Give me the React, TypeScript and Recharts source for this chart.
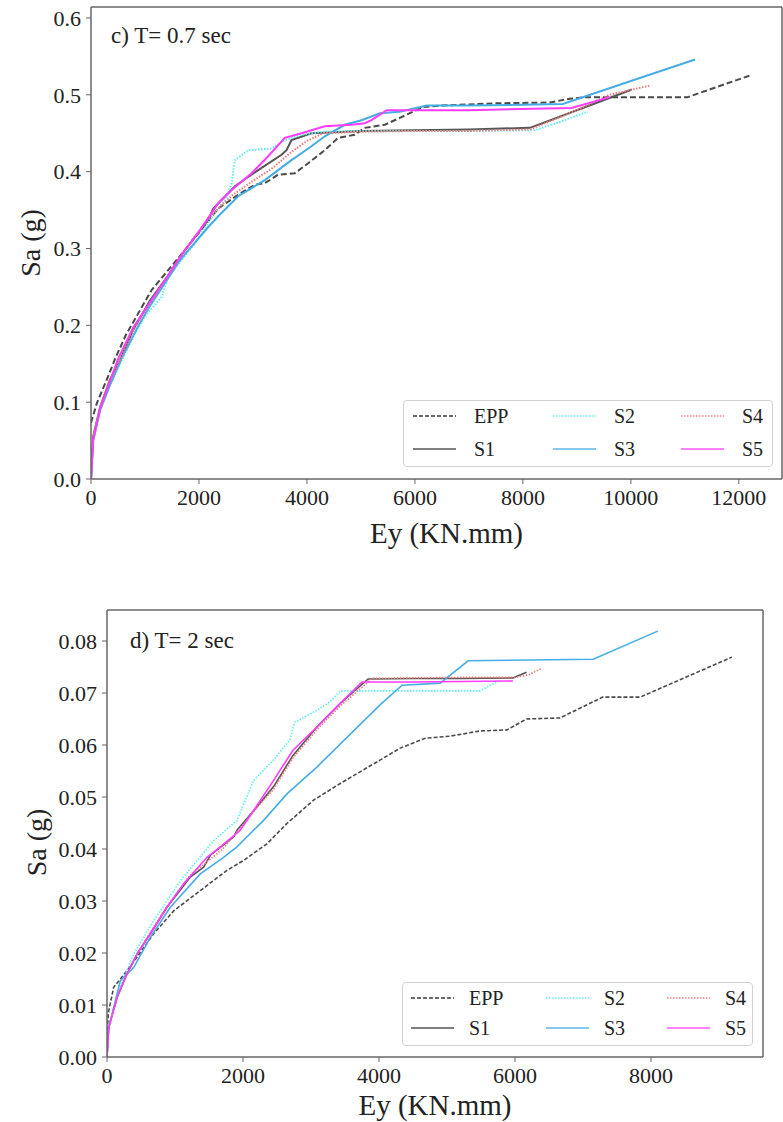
import { LineChart, Line, XAxis, YAxis, Legend, ReferenceLine, Label } from 'recharts'

const font = '"Liberation Serif", "Times New Roman", serif'

// c) T = 0.7 sec
const eppEy07 = [0, 110, 290, 450, 650, 1123, 1740, 2357, 2727, 3036, 3220, 3467, 3776, 4023, 4331, 4578, 4886, 5070, 5440, 5720, 6150, 6500, 7500, 8500, 8870, 9200, 11050, 12200]
const eppSa07 = [0.073, 0.099, 0.129, 0.157, 0.188, 0.246, 0.298, 0.352, 0.37, 0.383, 0.385, 0.396, 0.398, 0.411, 0.428, 0.444, 0.448, 0.457, 0.461, 0.47, 0.484, 0.486, 0.489, 0.49, 0.495, 0.497, 0.497, 0.525]
const s1Ey07 = [0, 40, 170, 350, 540, 780, 1090, 1400, 1650, 1900, 2172, 2264, 2665, 3097, 3530, 3622, 3714, 4084, 5000, 6000, 7000, 8130, 9000, 10020]
const s1Sa07 = [0, 0.055, 0.094, 0.129, 0.155, 0.194, 0.232, 0.262, 0.289, 0.313, 0.337, 0.352, 0.381, 0.402, 0.422, 0.428, 0.441, 0.45, 0.453, 0.454, 0.455, 0.457, 0.48, 0.507]
const s2Ey07 = [0, 40, 170, 350, 540, 815, 1000, 1200, 1308, 1431, 1925, 2260, 2500, 2604, 2665, 2912, 3344, 3590, 3900, 4300, 5000, 6000, 7000, 8220, 8700, 9200]
const s2Sa07 = [0, 0.05, 0.09, 0.122, 0.15, 0.19, 0.212, 0.228, 0.237, 0.263, 0.307, 0.343, 0.365, 0.385, 0.415, 0.428, 0.43, 0.441, 0.448, 0.452, 0.453, 0.453, 0.453, 0.454, 0.465, 0.478]
const s3Ey07 = [0, 40, 170, 350, 568, 876, 1090, 1400, 1650, 2172, 2357, 2727, 3220, 3714, 4084, 4331, 4701, 5010, 5350, 5720, 6220, 7000, 8000, 8740, 10000, 11190]
const s3Sa07 = [0, 0.05, 0.09, 0.122, 0.157, 0.199, 0.225, 0.258, 0.285, 0.328, 0.342, 0.368, 0.389, 0.415, 0.433, 0.446, 0.461, 0.467, 0.476, 0.478, 0.486, 0.486, 0.487, 0.488, 0.518, 0.546]
const s4Ey07 = [0, 40, 170, 350, 540, 780, 1090, 1400, 1650, 1900, 2150, 2400, 2630, 3000, 3370, 3700, 4000, 4300, 5000, 6000, 7000, 8130, 9000, 9600, 10350]
const s4Sa07 = [0, 0.055, 0.094, 0.129, 0.155, 0.194, 0.229, 0.262, 0.289, 0.313, 0.337, 0.355, 0.37, 0.388, 0.405, 0.425, 0.44, 0.45, 0.452, 0.453, 0.453, 0.455, 0.48, 0.5, 0.512]
const s5Ey07 = [0, 40, 170, 350, 506, 780, 1123, 1400, 1740, 2000, 2357, 2604, 2974, 3282, 3590, 3900, 4331, 4825, 5072, 5195, 5480, 6000, 7000, 8900, 9610]
const s5Sa07 = [0, 0.05, 0.092, 0.127, 0.157, 0.197, 0.233, 0.262, 0.298, 0.322, 0.359, 0.376, 0.398, 0.42, 0.444, 0.45, 0.459, 0.461, 0.463, 0.467, 0.48, 0.48, 0.48, 0.483, 0.497]

// d) T = 2 sec
const eppEy2 = [0, 20, 98, 294, 441, 686, 980, 1372, 1764, 2009, 2352, 2646, 3038, 3430, 4015, 4310, 4680, 5045, 5485, 5880, 6170, 6660, 7290, 7840, 9190]
const eppSa2 = [0.004, 0.0085, 0.0134, 0.0166, 0.0192, 0.0237, 0.0281, 0.032, 0.0359, 0.0378, 0.041, 0.0449, 0.0494, 0.0526, 0.0571, 0.0594, 0.0613, 0.0617, 0.0627, 0.0629, 0.065, 0.0652, 0.0692, 0.0692, 0.0769]
const s1Ey2 = [0, 25, 147, 294, 441, 637, 882, 1225, 1421, 1519, 1862, 1911, 2205, 2450, 2735, 3090, 3430, 3840, 4500, 5200, 5970, 6170]
const s1Sa2 = [0, 0.0057, 0.0114, 0.016, 0.0198, 0.0237, 0.0288, 0.0346, 0.0365, 0.0388, 0.0423, 0.0436, 0.0481, 0.052, 0.058, 0.0635, 0.068, 0.0727, 0.0728, 0.0728, 0.0729, 0.074]
const s2Ey2 = [0, 25, 147, 392, 686, 1078, 1568, 1911, 2156, 2440, 2690, 2760, 3090, 3280, 3430, 4500, 5485, 5780]
const s2Sa2 = [0, 0.006, 0.012, 0.0198, 0.0262, 0.0339, 0.0416, 0.0455, 0.0532, 0.057, 0.061, 0.0644, 0.0667, 0.0683, 0.0704, 0.0704, 0.0704, 0.0725]
const s3Ey2 = [0, 25, 196, 392, 637, 931, 1372, 1715, 1911, 2303, 2646, 3090, 4015, 4340, 4900, 5310, 7150, 8100]
const s3Sa2 = [0, 0.0055, 0.0147, 0.0172, 0.023, 0.0288, 0.0352, 0.0384, 0.0404, 0.0455, 0.0506, 0.0558, 0.0677, 0.0715, 0.0719, 0.0762, 0.0765, 0.0819]
const s4Ey2 = [0, 25, 147, 294, 441, 637, 882, 1225, 1470, 1700, 1960, 2205, 2450, 2735, 3090, 3430, 3900, 4500, 5200, 6000, 6200, 6400]
const s4Sa2 = [0, 0.0057, 0.0114, 0.016, 0.0198, 0.024, 0.029, 0.035, 0.0375, 0.04, 0.044, 0.048, 0.0515, 0.0575, 0.063, 0.0675, 0.0728, 0.0729, 0.073, 0.073, 0.0735, 0.0748]
const s5Ey2 = [0, 25, 147, 294, 441, 637, 882, 1127, 1470, 1666, 1960, 2156, 2450, 2735, 3090, 3430, 3750, 4500, 5200, 5970]
const s5Sa2 = [0, 0.0057, 0.0114, 0.016, 0.0198, 0.0237, 0.0288, 0.0333, 0.0384, 0.0404, 0.0436, 0.0474, 0.0532, 0.059, 0.0635, 0.068, 0.0721, 0.0721, 0.0722, 0.0723]

const eyTicks07 = [0, 2000, 4000, 6000, 8000, 10000, 12000]
const saTicks07 = [0, 0.1, 0.2, 0.3, 0.4, 0.5, 0.6]
const eyTicks2 = [0, 2000, 4000, 6000, 8000]
const saTicks2 = [0, 0.01, 0.02, 0.03, 0.04, 0.05, 0.06, 0.07, 0.08]

const names = ['EPP', 'S1', 'S2', 'S3', 'S4', 'S5']

const lineStyle: Record<string, { color: string; legend: string; dash?: string }> = {
  EPP: { color: '#4a4a4a', legend: '#6a6a6a', dash: 'dashed' },
  S1: { color: '#555555', legend: '#808080' },
  S2: { color: '#5ef0f0', legend: '#8ff6f6', dash: 'dotted' },
  S3: { color: '#45ade6', legend: '#86c8ee' },
  S4: { color: '#f07a7a', legend: '#f4a0a0', dash: 'dotted' },
  S5: { color: '#ff3cff', legend: '#ff80ff' },
}

const zip = (xs: number[], ys: number[]) => xs.map((ey, i) => ({ ey, sa: ys[i] }))

const series07 = [zip(eppEy07, eppSa07), zip(s1Ey07, s1Sa07), zip(s2Ey07, s2Sa07), zip(s3Ey07, s3Sa07), zip(s4Ey07, s4Sa07), zip(s5Ey07, s5Sa07)]
const series2 = [zip(eppEy2, eppSa2), zip(s1Ey2, s1Sa2), zip(s2Ey2, s2Sa2), zip(s3Ey2, s3Sa2), zip(s4Ey2, s4Sa2), zip(s5Ey2, s5Sa2)]

function LegendBox({ w, h, cols, rows, textOff }: { w: number; h: number; cols: number[]; rows: number[]; textOff: number }) {
  const order = [['EPP', 'S1'], ['S2', 'S3'], ['S4', 'S5']]
  return (
    <div style={{ position: 'relative', width: w, height: h, boxSizing: 'border-box', border: '1px solid #d2d2d2', borderRadius: 4, background: '#fff', fontFamily: font, fontSize: 20, color: '#222' }}>
      {order.map((col, ci) =>
        col.map((name, ri) => {
          const st = lineStyle[name]
          const dash = st.dash === 'dashed' ? '4 2' : st.dash === 'dotted' ? '1.5 1.5' : undefined
          return (
            <div key={name} style={{ position: 'absolute', left: cols[ci], top: rows[ri] - 12, height: 24, display: 'flex', alignItems: 'center' }}>
              <svg width={43} height={4} style={{ display: 'block' }}>
                <line x1={0} y1={2} x2={43} y2={2} stroke={st.legend} strokeWidth={2} strokeDasharray={dash} />
              </svg>
              <span style={{ marginLeft: textOff - 43, lineHeight: '24px' }}>{name}</span>
            </div>
          )
        })
      )}
    </div>
  )
}

type PanelProps = {
  data: { ey: number; sa: number }[][]
  height: number
  margin: { top: number; right: number; left: number; bottom: number }
  yWidth: number
  xHeight: number
  xMax: number
  yMax: number
  xTicks: number[]
  yTicks: number[]
  digits: number
  lw: number
  dashLen: string
  xLabelDx: number
  xLabelDy: number
  yLabelX: number
  yLabelDy: number
  legendPos: { left: number; top: number; w: number; h: number; cols: number[]; rows: number[]; textOff: number }
}

function Panel(p: PanelProps) {
  const tick = { fontSize: 22, fill: '#222', fontFamily: font }
  const axisLine = { stroke: '#666', strokeWidth: 1.5 }
  return (
    <LineChart width={783} height={p.height} margin={p.margin}>
      <XAxis
        type="number"
        dataKey="ey"
        domain={[0, p.xMax]}
        ticks={p.xTicks}
        allowDataOverflow
        height={p.xHeight}
        tick={tick}
        tickSize={5}
        tickMargin={5}
        axisLine={axisLine}
        tickLine={{ stroke: '#666' }}
      >
        <Label
          content={({ viewBox }: any) => (
            <text x={viewBox.x + viewBox.width / 2 + p.xLabelDx} y={viewBox.y + p.xLabelDy} textAnchor="middle" fontSize={29} fontFamily={font} fill="#222">
              Ey (KN.mm)
            </text>
          )}
        />
      </XAxis>
      <YAxis
        type="number"
        dataKey="sa"
        domain={[0, p.yMax]}
        ticks={p.yTicks}
        allowDataOverflow
        width={p.yWidth}
        tick={tick}
        tickFormatter={(v: number) => v.toFixed(p.digits)}
        tickSize={5}
        tickMargin={5}
        axisLine={axisLine}
        tickLine={{ stroke: '#666' }}
      >
        <Label
          content={({ viewBox }: any) => {
            const cx = p.yLabelX
            const cy = viewBox.y + viewBox.height / 2 + p.yLabelDy
            return (
              <text x={cx} y={cy} transform={`rotate(-90 ${cx} ${cy})`} textAnchor="middle" dominantBaseline="central" fontSize={28} fontFamily={font} fill="#222">
                Sa (g)
              </text>
            )
          }}
        />
      </YAxis>
      <ReferenceLine y={p.yMax} stroke="#666" strokeWidth={1.5} />
      <ReferenceLine x={p.xMax} stroke="#666" strokeWidth={1.5} />
      {names.map((name, i) => {
        const st = lineStyle[name]
        const dash = st.dash === 'dashed' ? p.dashLen : st.dash === 'dotted' ? '1.5 1.5' : undefined
        return (
          <Line
            key={name}
            name={name}
            data={p.data[i]}
            dataKey="sa"
            type="linear"
            stroke={st.color}
            strokeWidth={p.lw}
            strokeDasharray={dash}
            dot={false}
            activeDot={false}
            isAnimationActive={false}
          />
        )
      })}
      <Legend
        layout="horizontal"
        verticalAlign="middle"
        align="center"
        wrapperStyle={{ left: p.legendPos.left, top: p.legendPos.top, width: p.legendPos.w, height: p.legendPos.h }}
        content={() => <LegendBox w={p.legendPos.w} h={p.legendPos.h} cols={p.legendPos.cols} rows={p.legendPos.rows} textOff={p.legendPos.textOff} />}
      />
    </LineChart>
  )
}

export default function App() {
  return (
    <div style={{ position: 'absolute', left: 0, top: 0, width: 783, height: 1122, background: '#fff', fontFamily: font }}>
      <div style={{ position: 'absolute', left: 0, top: 0 }}>
        <Panel
          data={series07}
          height={560}
          margin={{ top: 7, right: 1, left: 0, bottom: 0 }}
          yWidth={91}
          xHeight={81}
          xMax={12800}
          yMax={0.6143}
          xTicks={eyTicks07}
          yTicks={saTicks07}
          digits={1}
          lw={2}
          dashLen="6 3"
          xLabelDx={10}
          xLabelDy={64}
          yLabelX={30}
          yLabelDy={0}
          legendPos={{ left: 403, top: 400, w: 370, h: 67, cols: [9, 149, 277], rows: [15, 48], textOff: 61 }}
        />
        <div style={{ position: 'absolute', left: 111, top: 24, fontSize: 23, lineHeight: '23px', color: '#222', whiteSpace: 'nowrap' }}>c) T= 0.7 sec</div>
      </div>
      <div style={{ position: 'absolute', left: 0, top: 560 }}>
        <Panel
          data={series2}
          height={562}
          margin={{ top: 50, right: 20, left: 0, bottom: 0 }}
          yWidth={107}
          xHeight={65}
          xMax={9647}
          yMax={0.08596}
          xTicks={eyTicks2}
          yTicks={saTicks2}
          digits={2}
          lw={1.6}
          dashLen="4 2"
          xLabelDx={0}
          xLabelDy={58}
          yLabelX={36}
          yLabelDy={9}
          legendPos={{ left: 402, top: 422, w: 351, h: 64, cols: [8, 143, 264], rows: [15, 45], textOff: 58 }}
        />
        <div style={{ position: 'absolute', left: 130, top: 69, fontSize: 23, lineHeight: '23px', color: '#222', whiteSpace: 'nowrap' }}>d) T= 2 sec</div>
      </div>
    </div>
  )
}
